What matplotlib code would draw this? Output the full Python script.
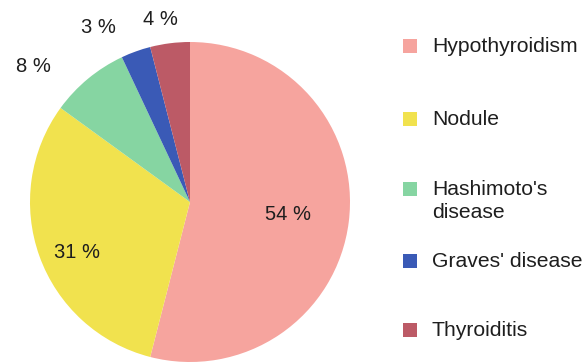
import numpy as np
import matplotlib.pyplot as plt
from matplotlib.patches import Rectangle

plt.rcParams['font.family'] = ['Liberation Sans', 'DejaVu Sans']

# diagnoses and their share (%)
labels = ["Hypothyroidism", "Nodule", "Hashimoto's\ndisease", "Graves' disease", "Thyroiditis"]
shares = [54, 31, 8, 3, 4]
colors = ['#F6A49E', '#F1E24E', '#86D5A2', '#3A5AB6', '#BC5A66']

# where each percent label sits: radius fraction and a small pixel nudge
label_dist = [0.62, 0.77, 1.15, 1.15, 1.15]
label_nudge = [(0, 0), (3, -9), (-39, -6), (-29, 1), (-7, 0)]

W, H = 582, 364
fig = plt.figure(figsize=(W / 100, H / 100), dpi=100)
ax = fig.add_axes([0, 0, 1, 1])

cx, cy, r = 190, H - 202, 160
wedges, _ = ax.pie(shares, colors=colors, startangle=90, counterclock=False,
                   center=(cx, cy), radius=r, frame=True,
                   wedgeprops=dict(linewidth=0))
ax.set_xlim(0, W)
ax.set_ylim(0, H)
ax.set_aspect('equal')
ax.axis('off')

for w, val, d, (nx, ny) in zip(wedges, shares, label_dist, label_nudge):
    mid = np.deg2rad((w.theta1 + w.theta2) / 2)
    x = cx + np.cos(mid) * r * d + nx
    y = cy + np.sin(mid) * r * d + ny
    ax.text(x, y, f"{val} %", ha='center', va='center', fontsize=14.5, color='#1e1e1e')

# legend on the right
row_y = [46, 119, 189, 261, 330]
for lab, col, ry in zip(labels, colors, row_y):
    y = H - ry
    ax.add_patch(Rectangle((403, y - 7), 14, 14, color=col, lw=0))
    for j, line in enumerate(lab.split('\n')):
        ax.text(432, y - 6 - j * 23, line, ha='left', va='baseline',
                fontsize=15.2, color='#1e1e1e')

fig.savefig('out.png', dpi=100)
